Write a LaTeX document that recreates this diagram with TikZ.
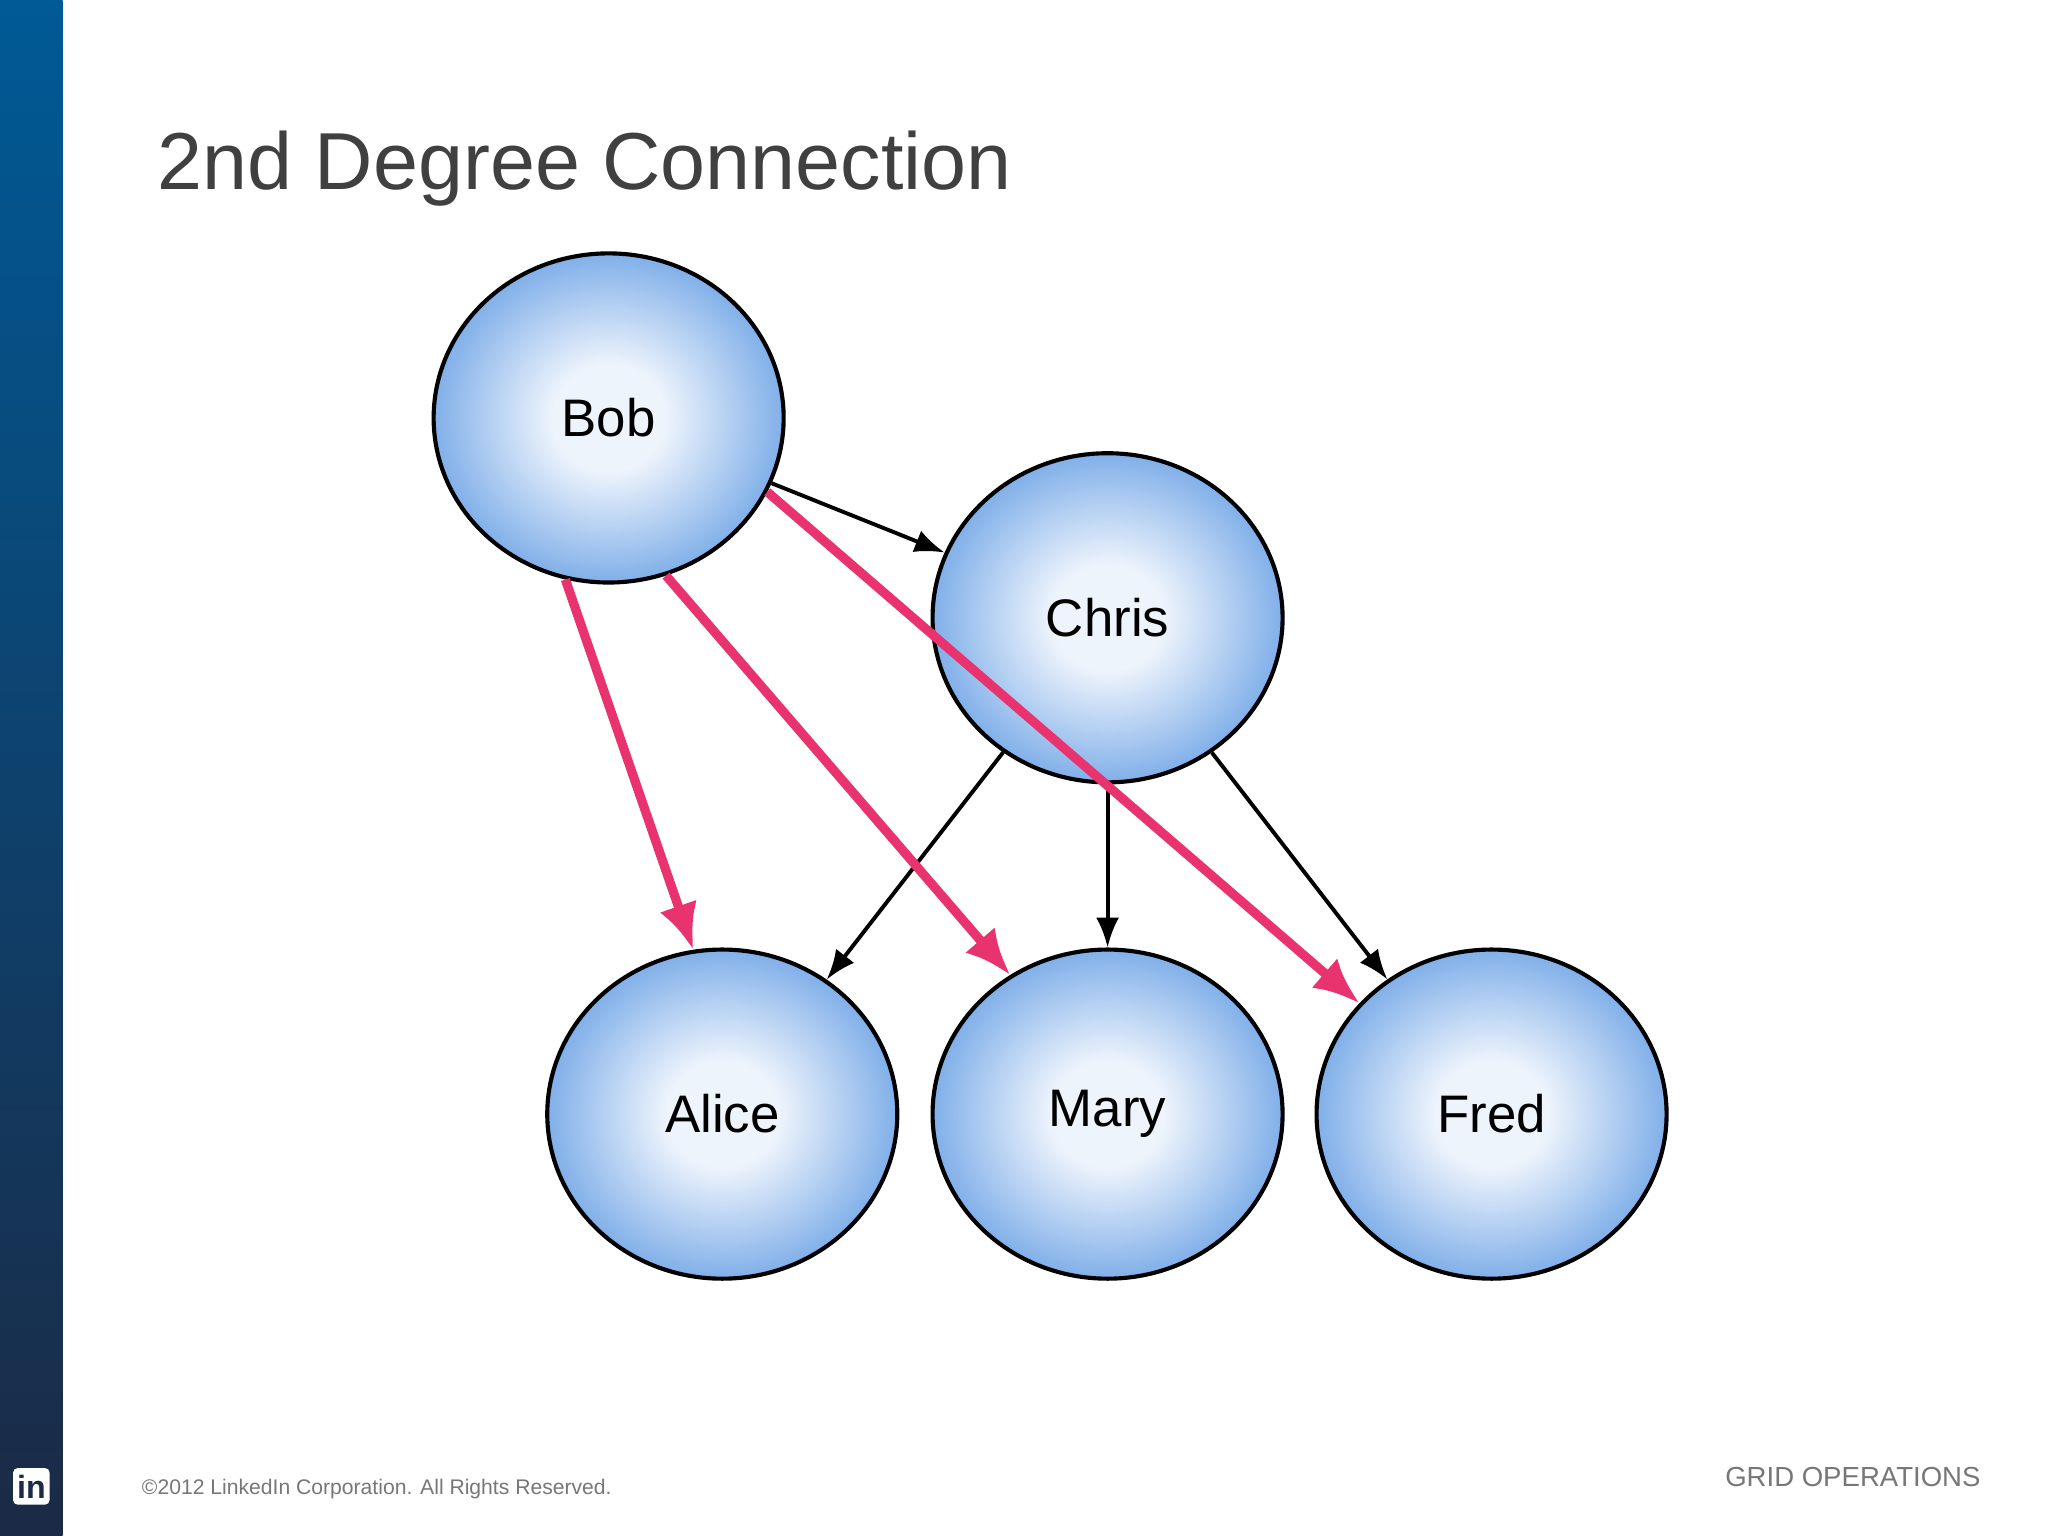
\documentclass[tikz,border=0pt]{standalone}
\usepackage{fontspec}
\setmainfont{Liberation Sans}
\usetikzlibrary{shapes.geometric,arrows.meta}
\definecolor{titlegray}{HTML}{404040}
\definecolor{footgray}{HTML}{777777}
\definecolor{pinkc}{HTML}{E8336E}
\definecolor{ballin}{HTML}{EEF4FC}
\definecolor{ballmid}{HTML}{4D8FE0}
\definecolor{ballout}{HTML}{3A78D2}
\definecolor{bartop}{HTML}{005A96}
\definecolor{barbot}{HTML}{1B2A45}
\pgfdeclareradialshading{ballshade}{\pgfpoint{0bp}{0bp}}{color(0bp)=(ballin); color(8bp)=(ballin); color(33bp)=(ballmid); color(50bp)=(ballout); color(100bp)=(ballout)}
\tikzset{
  person/.style={ellipse, draw=black, line width=0.9pt, shading=ballshade, minimum width=268\pxu, minimum height=252\pxu, font=\fontsize{11.5}{12}\selectfont, text=black},
  blackarr/.style={line width=0.85pt, -{Latex[length=6.5pt,width=5pt]}},
  pinkarr/.style={draw=pinkc, line width=2pt, -{Latex[length=10pt,width=8.5pt]}},
}
\newlength{\pxu}\setlength{\pxu}{0.01cm}
\begin{document}
\begin{tikzpicture}[x=0.01cm,y=-0.01cm]
\useasboundingbox (0,0) rectangle (1568,1176);
\fill[white] (0,0) rectangle (1568,1176);
\shade[top color=bartop, bottom color=barbot] (0,0) rectangle (48,1176);
\node[anchor=base west, text=titlegray, font=\fontsize{17.6}{20}\selectfont, inner sep=0] (title) at (120,145) {2nd Degree Connection};
\node[person] (bob) at (466,320) {Bob};
\node[person] (chris) at (848,473) {Chris};
\node[person] (alice) at (553,853) {Alice};
\node[person] (mary) at (848,853) {Mary};
\node[person] (fred) at (1142,853) {Fred};
\draw[blackarr] (bob) -- (chris);
\draw[blackarr] (chris) -- (alice);
\draw[blackarr] (chris) -- (mary);
\draw[blackarr] (chris) -- (fred);
\draw[pinkarr] (bob.255) -- (alice.100);
\draw[pinkarr] (bob.290) -- (mary.125);
\draw[pinkarr] (bob.335) -- (fred.140);
\node[anchor=base west, text=footgray, font=\fontsize{4.6}{5}\selectfont, inner sep=0] (copy) at (108,1144) {©2012 LinkedIn Corporation. All Rights Reserved.};
\node[anchor=base east, text=footgray, font=\fontsize{6}{7}\selectfont, inner sep=0] (grid) at (1517,1138) {GRID OPERATIONS};
\node[fill=white, rounded corners=1pt, minimum size=28\pxu, inner sep=0, text=barbot, font=\bfseries\fontsize{7}{7}\selectfont] (logo) at (24,1138) {in};
\end{tikzpicture}
\end{document}
